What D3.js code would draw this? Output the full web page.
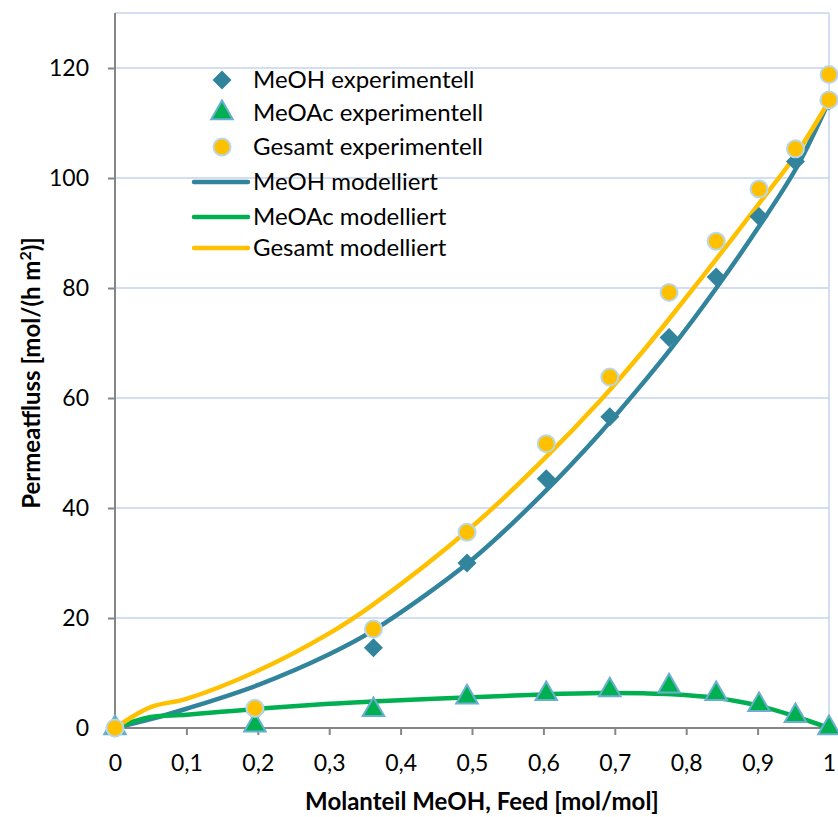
<!DOCTYPE html>
<html>
<head>
<meta charset="utf-8">
<script src="https://cdn.jsdelivr.net/npm/d3@7"></script>
<style>
  body { margin: 0; background: #fff; }
  text { font-family: Lato, "Open Sans", sans-serif; fill: #000; }
</style>
</head>
<body>
<script>
var width = 838,
    height = 817;

// experimental data
var xExp = [0, 0.196, 0.362, 0.493, 0.604, 0.693, 0.776, 0.842, 0.902, 0.953, 1.0];
var meohExp = [0, 3, 14.6, 30, 45.3, 56.6, 71, 82, 93, 103, 114];
var meoacExp = [0, 0.5, 3.3, 5.6, 6.2, 6.9, 7.6, 6.2, 4.2, 2.2, 0];
var totalExp = [0, 3.6, 18, 35.6, 51.7, 63.8, 79.2, 88.5, 98, 105.3, 118.8];
// second total point at x = 1
var totalExtraX = [1.0];
var totalExtra = [114.2];

// model curves
var xMod = [0, 0.05, 0.1, 0.2, 0.3, 0.36, 0.5, 0.6, 0.68, 0.74, 0.78, 0.84, 0.9, 0.955, 1.0];
var meohMod = [0, 1.6, 3.5, 7.8, 13.4, 17.6, 30.6, 42.7, 53.7, 62.8, 69.2, 79.6, 90.8, 102, 114];
var meoacMod = [0, 2.0, 2.4, 3.5, 4.4, 4.8, 5.6, 6.1, 6.35, 6.3, 6.15, 5.5, 4.1, 2.0, 0];
var totalMod = [0, 3.8, 5.3, 10.4, 17.2, 22.3, 36.6, 48.8, 59.6, 68.6, 75, 84.9, 95, 104.5, 114];

var xTicks = d3.range(0, 1.0001, 0.1);
var yTicks = [0, 20, 40, 60, 80, 100, 120];

var legendItems = [
  {label: "MeOH experimentell", type: "diamond"},
  {label: "MeOAc experimentell", type: "triangle"},
  {label: "Gesamt experimentell", type: "circle"},
  {label: "MeOH modelliert", type: "line", color: "#31849B"},
  {label: "MeOAc modelliert", type: "line", color: "#00B050"},
  {label: "Gesamt modelliert", type: "line", color: "#FFC000"}
];

var margin = {left: 115, right: 9, top: 13, bottom: 89};

var x = d3.scaleLinear().domain([0, 1]).range([margin.left, width - margin.right]);
var y = d3.scaleLinear().domain([0, 130]).range([height - margin.bottom, margin.top]);

var svg = d3.select("body").append("svg")
    .attr("width", width)
    .attr("height", height);

// gridlines
svg.append("g")
  .selectAll("line")
  .data(yTicks.slice(1).concat([130]))
  .enter().append("line")
    .attr("x1", x(0)).attr("x2", x(1))
    .attr("y1", function(d) { return y(d); })
    .attr("y2", function(d) { return y(d); })
    .attr("stroke", "#C5D3EE")
    .attr("stroke-width", 1.5);

svg.append("line")
    .attr("x1", x(1)).attr("x2", x(1))
    .attr("y1", y(0)).attr("y2", y(130))
    .attr("stroke", "#C5D3EE")
    .attr("stroke-width", 1.5);

// axes
var xAxis = svg.append("g")
    .attr("transform", "translate(0," + y(0) + ")")
    .call(d3.axisBottom(x).tickValues(xTicks).tickSize(7).tickPadding(20)
      .tickFormat(function(d) { return d === 0 ? "0" : d === 1 ? "1" : d3.format(".1f")(d).replace(".", ","); }));

var yAxis = svg.append("g")
    .attr("transform", "translate(" + x(0) + ",0)")
    .call(d3.axisLeft(y).tickValues(yTicks).tickSize(7).tickPadding(19));

[xAxis, yAxis].forEach(function(a) {
  a.select(".domain").attr("stroke", "#868686").attr("stroke-width", 2);
  a.selectAll(".tick line").attr("stroke", "#868686").attr("stroke-width", 2);
  a.selectAll(".tick text").style("font-size", "23px").attr("fill", "#000")
    .style("font-family", "Lato, sans-serif");
});
// y axis line spans full plot height
yAxis.select(".domain").attr("d", "M-7," + y(0) + "H0V" + y(130));
xAxis.select(".domain").attr("d", "M" + x(0) + ",0H" + x(1));

// axis titles
svg.append("text")
    .attr("x", 482).attr("y", 810)
    .attr("text-anchor", "middle")
    .style("font-size", "24px").style("font-weight", "bold")
    .text("Molanteil MeOH, Feed [mol/mol]");

svg.append("text")
    .attr("transform", "translate(40," + 373 + ") rotate(-90)")
    .attr("text-anchor", "middle")
    .style("font-size", "24px").style("font-weight", "bold")
    .html("Permeatfluss [mol/(h m<tspan baseline-shift='super' font-size='16px'>2</tspan>)]");

// model lines
var line = d3.line()
    .x(function(d) { return x(d[0]); })
    .y(function(d) { return y(d[1]); })
    .curve(d3.curveCatmullRom.alpha(0.5));

function pairs(xs, ys) { return xs.map(function(v, i) { return [v, ys[i]]; }); }

var g = svg.append("g");
[[meohMod, "#31849B"], [meoacMod, "#00B050"], [totalMod, "#FFC000"]].forEach(function(s) {
  g.append("path")
    .datum(pairs(xMod, s[0]))
    .attr("d", line)
    .attr("fill", "none")
    .attr("stroke", s[1])
    .attr("stroke-width", 4.5)
    .attr("stroke-linecap", "round");
});

// markers
var diamond = d3.symbol().type(d3.symbolDiamond2).size(230);
var triangle = d3.symbol().type(d3.symbolTriangle).size(200);

g.selectAll(".meoh")
  .data(pairs(xExp, meohExp))
  .enter().append("path")
    .attr("class", "meoh")
    .attr("d", diamond)
    .attr("transform", function(d) { return "translate(" + x(d[0]) + "," + y(d[1]) + ")"; })
    .attr("fill", "#31849B");

g.selectAll(".meoac")
  .data(pairs(xExp, meoacExp))
  .enter().append("path")
    .attr("class", "meoac")
    .attr("d", triangle)
    .attr("transform", function(d) { return "translate(" + x(d[0]) + "," + y(d[1]) + ")"; })
    .attr("fill", "#00B050")
    .attr("stroke", "#6AAFD0")
    .attr("stroke-width", 2);

g.selectAll(".total")
  .data(pairs(xExp, totalExp).concat(pairs(totalExtraX, totalExtra)))
  .enter().append("circle")
    .attr("class", "total")
    .attr("cx", function(d) { return x(d[0]); })
    .attr("cy", function(d) { return y(d[1]); })
    .attr("r", 8.5)
    .attr("fill", "#FFC000")
    .attr("stroke", "#B9D7E6")
    .attr("stroke-width", 2);

// legend
var legend = svg.append("g").attr("transform", "translate(222,80)");
var rowY = [0, 33, 67, 102, 137, 168];
legendItems.forEach(function(item, i) {
  var row = legend.append("g").attr("transform", "translate(0," + rowY[i] + ")");
  if (item.type === "diamond") {
    row.append("path").attr("d", diamond).attr("fill", "#31849B");
  } else if (item.type === "triangle") {
    row.append("path").attr("d", triangle).attr("fill", "#00B050")
      .attr("stroke", "#6AAFD0").attr("stroke-width", 2);
  } else if (item.type === "circle") {
    row.append("circle").attr("r", 8.5).attr("fill", "#FFC000")
      .attr("stroke", "#B9D7E6").attr("stroke-width", 2);
  } else {
    row.append("line").attr("x1", -28).attr("x2", 26)
      .attr("stroke", item.color).attr("stroke-width", 4.5).attr("stroke-linecap", "round");
  }
  row.append("text")
    .attr("x", 31).attr("dy", "0.35em")
    .style("font-size", "24px")
    .text(item.label);
});
</script>
</body>
</html>
